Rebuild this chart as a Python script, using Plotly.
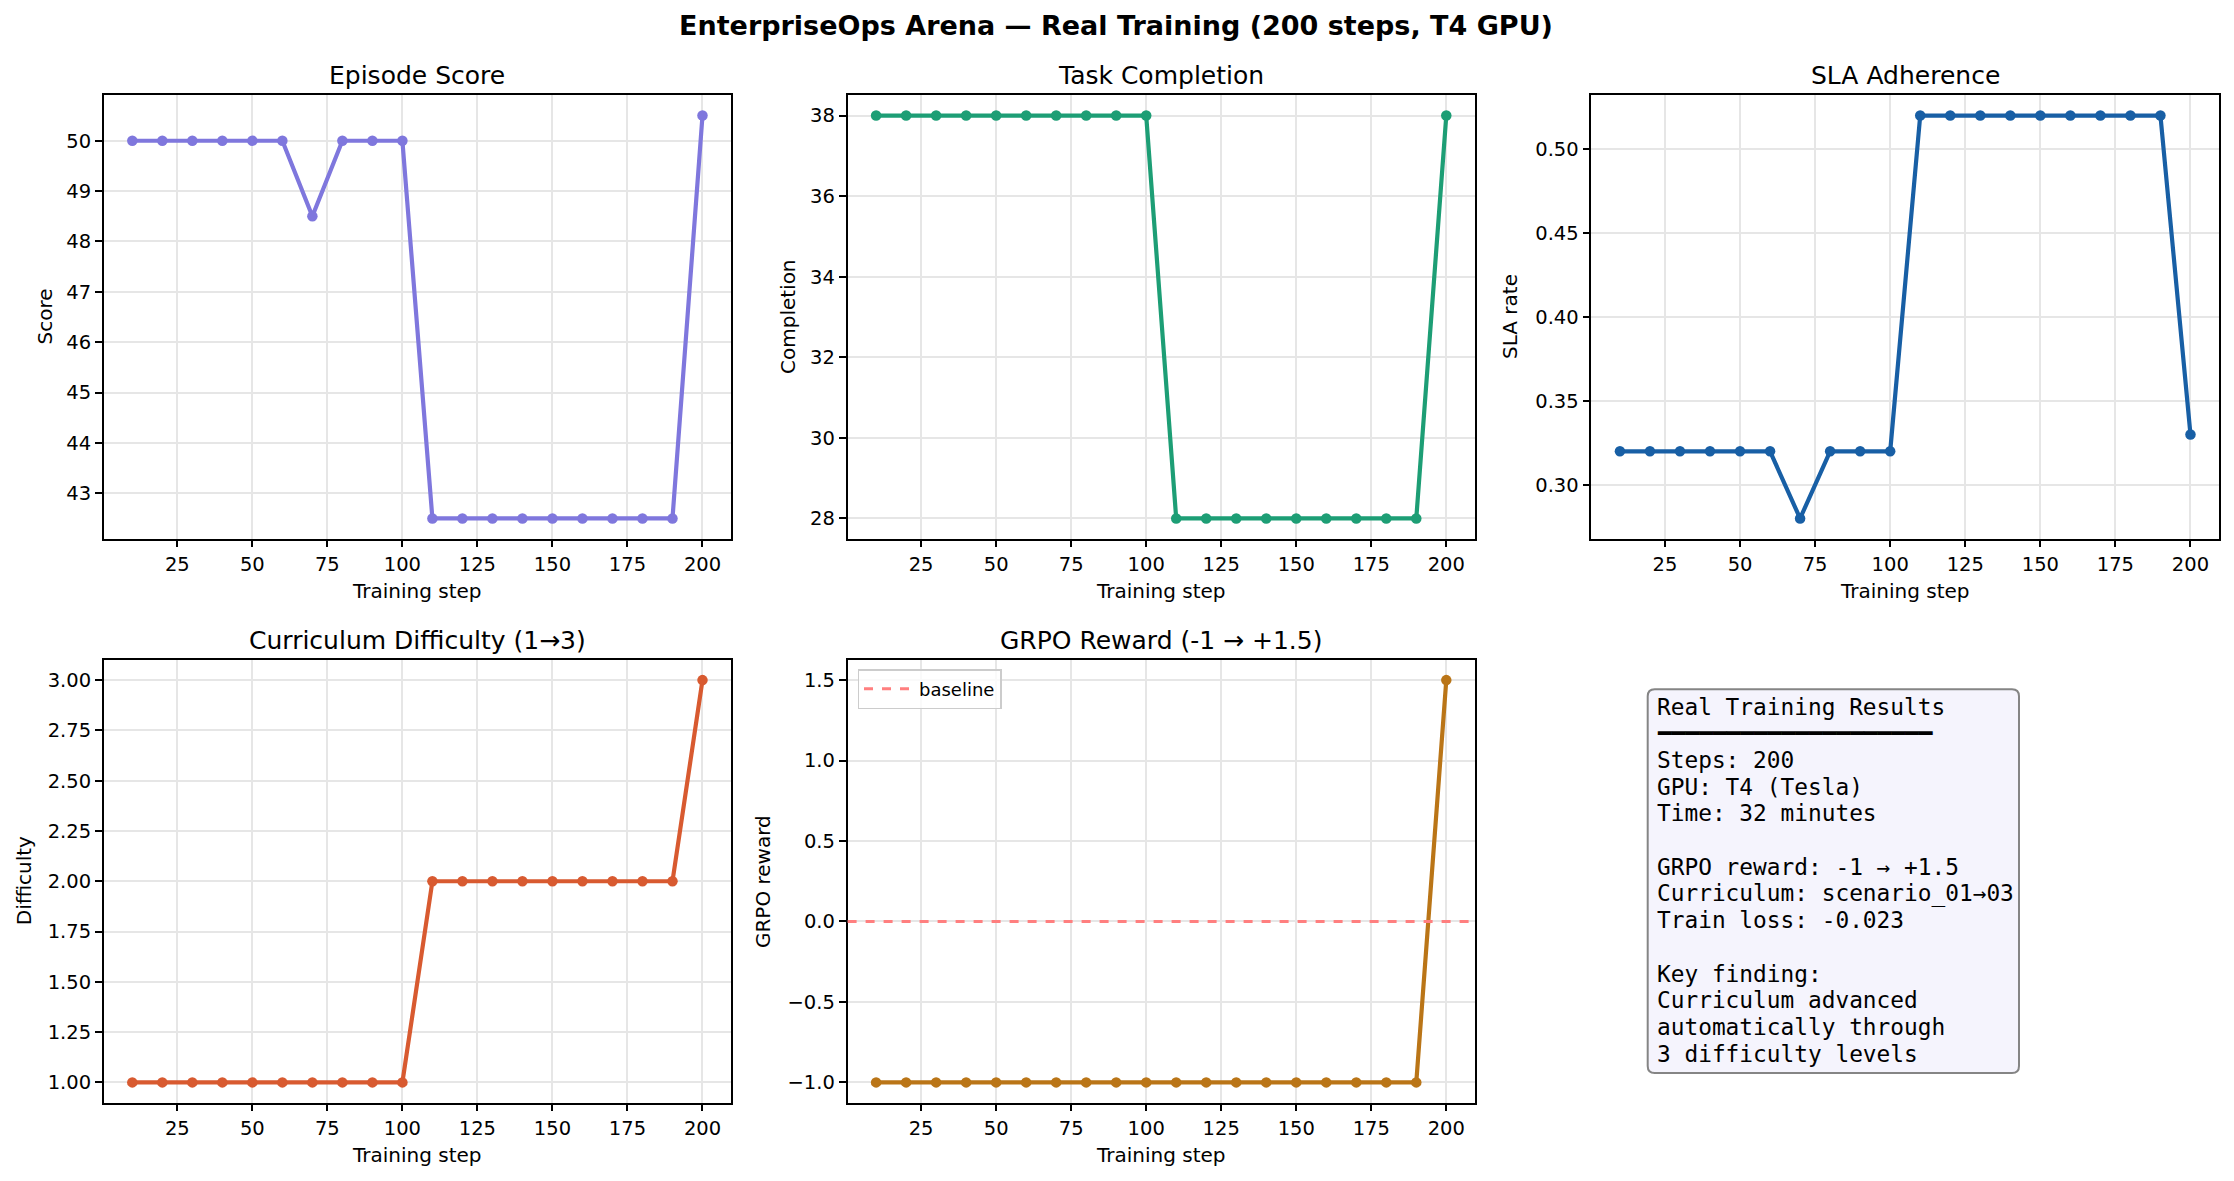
import plotly.graph_objects as go

# ---------------- data ----------------
steps = [10, 20, 30, 40, 50, 60, 70, 80, 90, 100, 110, 120, 130, 140, 150, 160, 170, 180, 190, 200]
episode_score = [50, 50, 50, 50, 50, 50, 48.5, 50, 50, 50, 42.5, 42.5, 42.5, 42.5, 42.5, 42.5, 42.5, 42.5, 42.5, 50.5]
task_completion = [38, 38, 38, 38, 38, 38, 38, 38, 38, 38, 28, 28, 28, 28, 28, 28, 28, 28, 28, 38]
sla_rate = [0.32, 0.32, 0.32, 0.32, 0.32, 0.32, 0.28, 0.32, 0.32, 0.32, 0.52, 0.52, 0.52, 0.52, 0.52, 0.52, 0.52, 0.52, 0.52, 0.33]
difficulty = [1, 1, 1, 1, 1, 1, 1, 1, 1, 1, 2, 2, 2, 2, 2, 2, 2, 2, 2, 3]
grpo_reward = [-1, -1, -1, -1, -1, -1, -1, -1, -1, -1, -1, -1, -1, -1, -1, -1, -1, -1, -1, 1.5]
baseline_value = 0
x_ticks = [25, 50, 75, 100, 125, 150, 175, 200]

suptitle = "EnterpriseOps Arena — Real Training (200 steps, T4 GPU)"
panel_titles = ["Episode Score", "Task Completion", "SLA Adherence", "Curriculum Difficulty (1→3)", "GRPO Reward (-1 → +1.5)"]
y_labels = ["Score", "Completion", "SLA rate", "Difficulty", "GRPO reward"]
x_label = "Training step"
summary_lines = [
    "Real Training Results",
    "━━━━━━━━━━━━━━━━━━━━",
    "Steps: 200",
    "GPU: T4 (Tesla)",
    "Time: 32 minutes",
    "",
    "GRPO reward: -1 → +1.5",
    "Curriculum: scenario_01→03",
    "Train loss: -0.023",
    "",
    "Key finding:",
    "Curriculum advanced",
    "automatically through",
    "3 difficulty levels",
]

# ---------------- layout geometry (pixels) ----------------
W, H = 2234, 1181
cols = [(103.8, 731.0), (847.6, 1474.8), (1591.4, 2219.0)]
rows = [(95.4, 538.6), (660.0, 1102.5)]
FONT = "DejaVu Sans"

def px(x):
    return x / W

def py(y):
    return 1 - y / H

series = [episode_score, task_completion, sla_rate, difficulty, grpo_reward]
colors = ["#7F77DD", "#1D9E75", "#185FA5", "#D85A30", "#BA7517"]
positions = [(0, 0), (0, 1), (0, 2), (1, 0), (1, 1)]
y_ticks = [
    dict(tickvals=[43, 44, 45, 46, 47, 48, 49, 50], tickformat="d"),
    dict(tickvals=[28, 30, 32, 34, 36, 38], tickformat="d"),
    dict(tickvals=[0.30, 0.35, 0.40, 0.45, 0.50], tickformat=".2f"),
    dict(tickvals=[1.0, 1.25, 1.5, 1.75, 2.0, 2.25, 2.5, 2.75, 3.0], tickformat=".2f"),
    dict(tickvals=[-1.0, -0.5, 0.0, 0.5, 1.0, 1.5], tickformat=".1f"),
]
ylab_x = [44.5, 788, 1510, 24, 762.8]

fig = go.Figure()
annotations = []

def pad_range(vals):
    lo, hi = min(vals), max(vals)
    m = (hi - lo) * 0.05
    return [lo - m, hi + m]

xr = pad_range(steps)

for i, (vals, color, (r, c)) in enumerate(zip(series, colors, positions)):
    n = i + 1
    xa = "x" if n == 1 else f"x{n}"
    ya = "y" if n == 1 else f"y{n}"
    fig.add_trace(go.Scatter(
        x=steps, y=vals, mode="lines+markers",
        line=dict(color=color, width=4.2),
        marker=dict(color=color, size=10.5),
        xaxis=xa, yaxis=ya, showlegend=False,
    ))
    x0, x1 = cols[c]
    y0, y1 = rows[r]
    axis_common = dict(
        showline=True, linecolor="black", linewidth=1.6, mirror=True,
        ticks="outside", ticklen=7, tickwidth=1.6, tickcolor="black",
        showgrid=True, gridcolor="#e6e6e6", gridwidth=1.5,
        zeroline=False, tickfont=dict(family=FONT, size=19.5, color="black"),
    )
    xkey = "xaxis" if n == 1 else f"xaxis{n}"
    ykey = "yaxis" if n == 1 else f"yaxis{n}"
    fig.update_layout(**{
        xkey: dict(domain=[px(x0), px(x1)], anchor=ya, range=xr,
                   tickvals=x_ticks, **axis_common),
        ykey: dict(domain=[py(y1), py(y0)], anchor=xa, range=pad_range(vals),
                   **y_ticks[i], **axis_common),
    })
    # panel title
    annotations.append(dict(
        text=panel_titles[i], xref="paper", yref="paper",
        x=px((x0 + x1) / 2), y=py(y0 - 20), xanchor="center", yanchor="middle",
        showarrow=False, font=dict(family=FONT, size=25, color="black"),
    ))
    # x label
    annotations.append(dict(
        text=x_label, xref="paper", yref="paper",
        x=px((x0 + x1) / 2), y=py(y1 + 52), xanchor="center", yanchor="middle",
        showarrow=False, font=dict(family=FONT, size=20, color="black"),
    ))
    # y label
    annotations.append(dict(
        text=y_labels[i], xref="paper", yref="paper", textangle=-90,
        x=px(ylab_x[i]), y=py((y0 + y1) / 2), xanchor="center", yanchor="middle",
        showarrow=False, font=dict(family=FONT, size=20, color="black"),
    ))

# suptitle
annotations.append(dict(
    text=f"<b>{suptitle}</b>", xref="paper", yref="paper",
    x=px(1116), y=py(25.5), xanchor="center", yanchor="middle",
    showarrow=False, font=dict(family=FONT, size=27, color="black"),
))

# summary text box
bx0, bx1, by0, by1 = 1647.7, 2019.0, 689.3, 1073.0
rad = 7
path = (f"M {px(bx0 + rad)} {py(by0)} L {px(bx1 - rad)} {py(by0)} "
        f"Q {px(bx1)} {py(by0)} {px(bx1)} {py(by0 + rad)} "
        f"L {px(bx1)} {py(by1 - rad)} Q {px(bx1)} {py(by1)} {px(bx1 - rad)} {py(by1)} "
        f"L {px(bx0 + rad)} {py(by1)} Q {px(bx0)} {py(by1)} {px(bx0)} {py(by1 - rad)} "
        f"L {px(bx0)} {py(by0 + rad)} Q {px(bx0)} {py(by0)} {px(bx0 + rad)} {py(by0)} Z")
shapes = [dict(type="path", path=path, xref="paper", yref="paper",
               fillcolor="#F5F4FD", line=dict(color="#858585", width=2), layer="above")]
for k, line in enumerate(summary_lines):
    if not line:
        continue
    annotations.append(dict(
        text=line, xref="paper", yref="paper",
        x=px(1655), y=py(706.7 + 26.7 * k), xanchor="left", yanchor="middle",
        showarrow=False, font=dict(family="DejaVu Sans Mono", size=22.8, color="black"),
    ))

# baseline dashed line in GRPO panel (legend entry)
shapes.append(dict(
    type="line", xref="x5 domain", yref="y5", x0=0, x1=1,
    y0=baseline_value, y1=baseline_value,
    line=dict(color="#FF7F7F", width=3, dash="dash"),
    showlegend=True, name="baseline", layer="above",
))

fig.update_layout(
    width=W, height=H, margin=dict(l=0, r=0, t=0, b=0),
    paper_bgcolor="white", plot_bgcolor="white",
    annotations=annotations, shapes=shapes,
    showlegend=True,
    legend=dict(
        x=px(857.5), y=py(669), xanchor="left", yanchor="top",
        bgcolor="rgba(255,255,255,0.8)", bordercolor="#cccccc", borderwidth=1.5,
        font=dict(family=FONT, size=18, color="black"),
        itemwidth=50, tracegroupgap=0,
    ),
)

fig.write_html("out.html")
